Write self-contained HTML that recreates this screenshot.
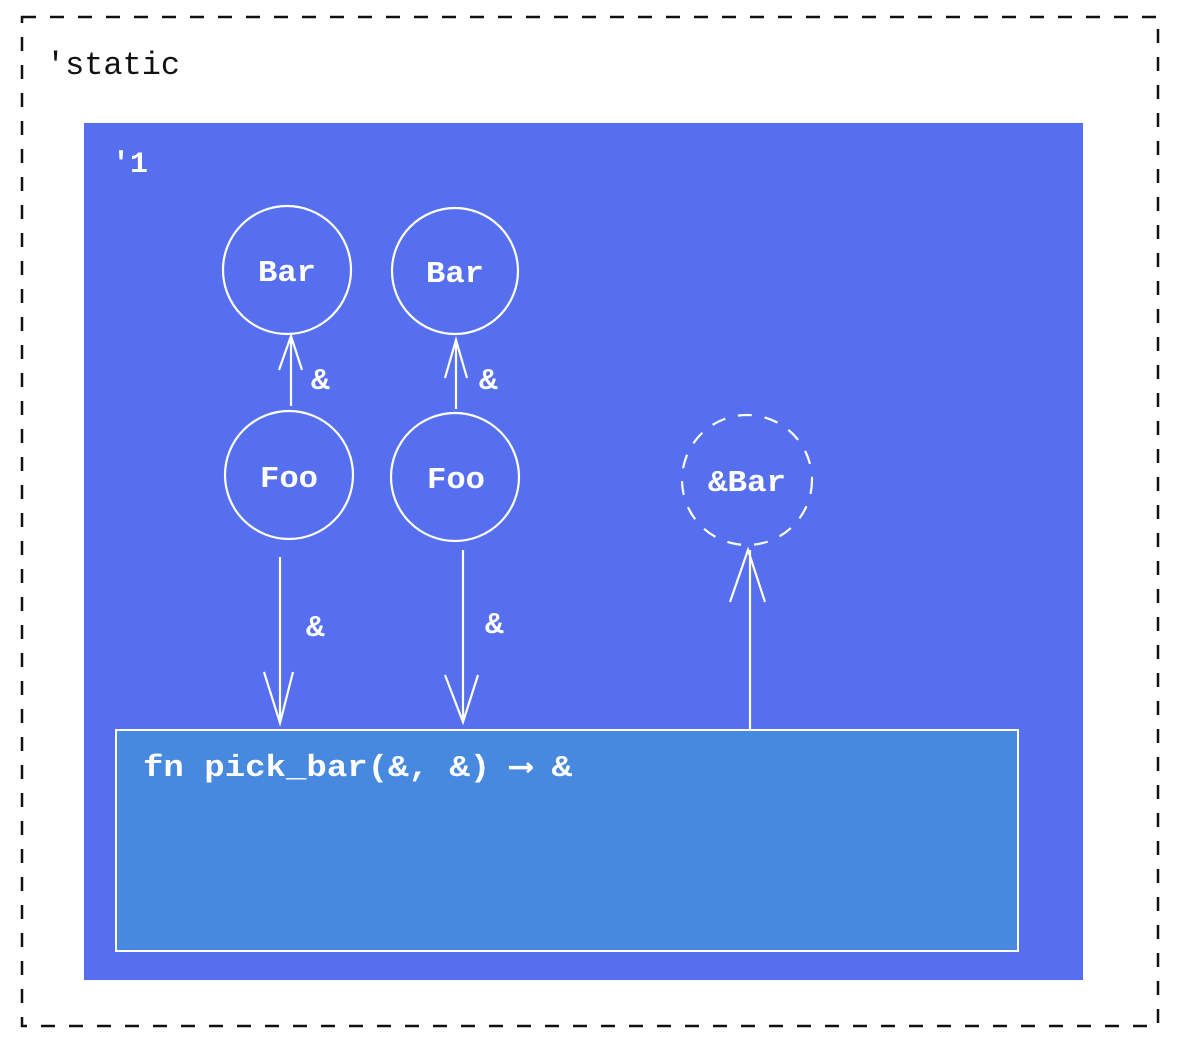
<!DOCTYPE html>
<html><head><meta charset="utf-8"><style>
html,body{margin:0;padding:0;background:#fff;}
svg{display:block}
text{font-family:"Liberation Mono","DejaVu Sans Mono",monospace;font-weight:bold;}
</style></head><body>
<svg width="1194" height="1048" viewBox="0 0 1194 1048" xmlns="http://www.w3.org/2000/svg">
<rect x="22" y="17" width="1136" height="1009" fill="none" stroke="#111" stroke-width="2.5" stroke-dasharray="14 14"/>
<text x="46" y="74" font-size="32" fill="#111" style="font-weight:normal" textLength="134" lengthAdjust="spacingAndGlyphs">'static</text>
<rect x="84" y="123" width="999" height="857" fill="#566FEE"/>
<text x="112" y="172" font-size="30" fill="#fff">'1</text>
<g fill="none" stroke="#fff" stroke-width="2.2">
<circle cx="287" cy="270" r="64"/>
<circle cx="455" cy="271" r="63"/>
<circle cx="289" cy="475" r="64"/>
<circle cx="455" cy="477" r="64"/>
<circle cx="747" cy="480" r="65" stroke-dasharray="14 13"/>
<path d="M291 406 V336 M279 370 L291 336 L302 370"/>
<path d="M456 409 V340 M445 378 L456 340 L467 378"/>
<path d="M280 557 V723 M264 672 L280 723 L293 672"/>
<path d="M463 550 V722 M445 675 L463 722 L478 675"/>
<path d="M750 730 V550 M730 602 L748 550 L765 602"/>
</g>
<rect x="116" y="730" width="902" height="221" fill="#4689DF" stroke="#fff" stroke-width="2"/>
<g fill="#fff" font-size="31">
<text x="258" y="281" textLength="58" lengthAdjust="spacingAndGlyphs">Bar</text>
<text x="426" y="282" textLength="58" lengthAdjust="spacingAndGlyphs">Bar</text>
<text x="260" y="487" textLength="58" lengthAdjust="spacingAndGlyphs">Foo</text>
<text x="427" y="488" textLength="58" lengthAdjust="spacingAndGlyphs">Foo</text>
<text x="708" y="491" textLength="78" lengthAdjust="spacingAndGlyphs">&amp;Bar</text>
<text x="311" y="389">&amp;</text>
<text x="479" y="389">&amp;</text>
<text x="306" y="636">&amp;</text>
<text x="485" y="633">&amp;</text>
<text x="143" y="776" textLength="429" lengthAdjust="spacingAndGlyphs">fn pick_bar(&amp;, &amp;) ⟶ &amp;</text>
</g>
</svg>
</body></html>
